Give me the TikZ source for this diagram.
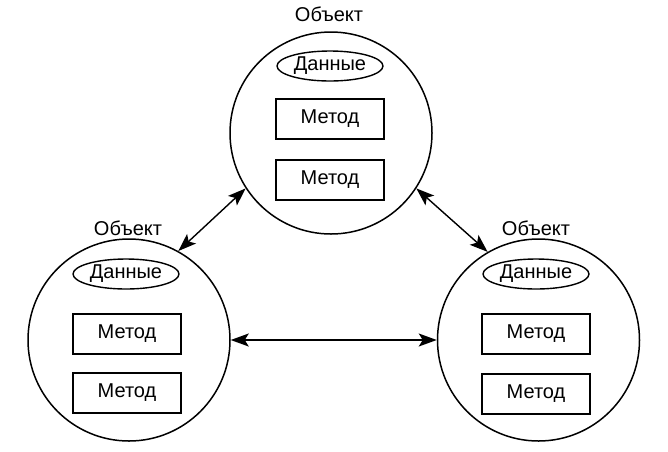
\documentclass[tikz,border=0pt]{standalone}
\usepackage{fontspec}
\setmainfont{Liberation Sans}
\usetikzlibrary{calc, positioning, arrows.meta, shapes.geometric}

\tikzset{
  object/.style={circle, draw, line width=.75pt, minimum size=101pt, inner sep=0pt},
  objname/.style={text centered, font=\fontsize{10}{12}\selectfont},
  data/.style={ellipse, draw, line width=.7pt, minimum width=53pt, minimum height=15pt,
    inner sep=0pt, font=\fontsize{10}{12}\selectfont},
  method/.style={rectangle, draw, line width=.7pt, minimum width=54pt, minimum height=20pt,
    inner sep=0pt, font=\fontsize{10}{12}\selectfont},
  link/.style={arrows={Stealth[length=9pt, width=6.5pt, inset=2pt]-Stealth[length=9pt, width=6.5pt, inset=2pt]},
    line width=.7pt}
}

\begin{document}
\begin{tikzpicture}
              [x=0.5pt, y=-0.5pt]
              \useasboundingbox (0,0) rectangle (668,451);

              % objects %
              \node[object] (top) at (331,133) {};
              \node[object] (left) at (129,340) {};
              \node[object] (right) at (538.5,340) {};

              % top object %
              \node[objname] (topname) at (329,14) {Объект};
              \node[data] (topdata) at (330,66) {Данные};
              \node[method] (topm1) at (330,119) {Метод};
              \node[method] (topm2) at (330,180) {Метод};

              % left object %
              \node[objname] (leftname) at (128,228) {Объект};
              \node[data] (leftdata) at (126,274) {Данные};
              \node[method] (leftm1) at (127,334) {Метод};
              \node[method] (leftm2) at (127,393) {Метод};

              % right object %
              \node[objname] (rightname) at (536,228) {Объект};
              \node[data] (rightdata) at (536,274) {Данные};
              \node[method] (rightm1) at (536,334) {Метод};
              \node[method] (rightm2) at (536,394) {Метод};

              % edges %
              \draw[link] (top.213) -- (left.61);
              \draw[link] (top.327) -- (right.120);
              \draw[link] (left.east) -- (right.west);
            \end{tikzpicture}
\end{document}
